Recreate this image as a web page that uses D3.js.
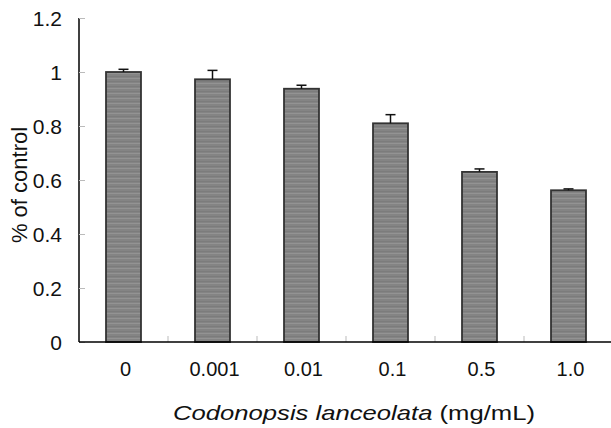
<!DOCTYPE html>
<meta charset="utf-8">
<script src="https://d3js.org/d3.v7.min.js"></script>
<style>
  body { margin: 0; background: #fff; }
  text { font-family: "Liberation Sans", Arial, sans-serif; fill: #111; }
</style>
<div id="vis"></div>
<script>

// data
var doses = ["0", "0.001", "0.01", "0.1", "0.5", "1.0"];
var values = [1.0, 0.973, 0.938, 0.81, 0.630, 0.562];
var errors = [0.01, 0.033, 0.013, 0.032, 0.011, 0.005];
var yTicks = [0, 0.2, 0.4, 0.6, 0.8, 1, 1.2];

var W = 611, H = 428;
var plotLeft = 79, plotTop = 18, plotBottom = 342;

var svg = d3.select("#vis")
  .append("svg")
    .attr("width", W)
    .attr("height", H);

// striped grey fill for the bars
var pat = svg.append("defs").append("pattern")
    .attr("id", "stripes")
    .attr("patternUnits", "userSpaceOnUse")
    .attr("width", 8)
    .attr("height", 5);
pat.append("rect").attr("width", 8).attr("height", 5).attr("fill", "#848484");
pat.append("rect").attr("y", 3).attr("width", 8).attr("height", 1).attr("fill", "#939393");
pat.append("rect").attr("y", 1).attr("width", 8).attr("height", 1).attr("fill", "#7c7c7c");

var x = d3.scaleBand()
  .domain(doses)
  .range([plotLeft, plotLeft + 6 * 89])
  .paddingInner(0.607)
  .paddingOuter(0.3035);

var y = d3.scaleLinear()
  .domain([0, 1.2])
  .range([plotBottom, plotTop]);

// y axis
var yAxis = svg.append("g")
  .attr("transform", "translate(" + plotLeft + ",0)")
  .call(d3.axisRight(y).tickValues(yTicks).tickSize(6).tickFormat(""));
yAxis.select(".domain").attr("stroke", "#000").attr("stroke-width", 1.5)
  .attr("d", "M0," + plotTop + "V" + plotBottom);
yAxis.selectAll(".tick line").attr("stroke", "#bbb");

svg.append("g").selectAll("text")
  .data(yTicks)
  .enter()
  .append("text")
    .attr("x", 62)
    .attr("y", function (d) { return y(d); })
    .attr("dy", "0.37em")
    .attr("text-anchor", "end")
    .style("font-size", "21px")
    .text(function (d) { return d; });

// bars
svg.append("g")
  .selectAll("rect")
  .data(values)
  .enter()
  .append("rect")
    .attr("x", function (d, i) { return x(doses[i]); })
    .attr("y", function (d) { return y(d); })
    .attr("width", x.bandwidth())
    .attr("height", function (d) { return plotBottom - y(d); })
    .attr("fill", "url(#stripes)")
    .attr("stroke", "#333")
    .attr("stroke-width", 1.8);

// error bars (upper only)
var eb = svg.append("g").selectAll("g")
  .data(values)
  .enter()
  .append("g")
    .attr("stroke", "#111")
    .attr("stroke-width", 1.5);
eb.append("line")
  .attr("x1", function (d, i) { return x(doses[i]) + x.bandwidth() / 2; })
  .attr("x2", function (d, i) { return x(doses[i]) + x.bandwidth() / 2; })
  .attr("y1", function (d) { return y(d); })
  .attr("y2", function (d, i) { return y(d + errors[i]); });
eb.append("line")
  .attr("x1", function (d, i) { return x(doses[i]) + x.bandwidth() / 2 - 5; })
  .attr("x2", function (d, i) { return x(doses[i]) + x.bandwidth() / 2 + 5; })
  .attr("y1", function (d, i) { return y(d + errors[i]); })
  .attr("y2", function (d, i) { return y(d + errors[i]); });

// x axis with small separators between categories
svg.append("g").selectAll("line")
  .data(doses.slice(1))
  .enter()
  .append("line")
    .attr("x1", function (d) { return x(d) - x.step() * x.paddingInner() / 2; })
    .attr("x2", function (d) { return x(d) - x.step() * x.paddingInner() / 2; })
    .attr("y1", plotBottom)
    .attr("y2", plotBottom - 6)
    .attr("stroke", "#bbb");
svg.append("line")
  .attr("x1", plotLeft).attr("x2", W)
  .attr("y1", plotBottom).attr("y2", plotBottom)
  .attr("stroke", "#000")
  .attr("stroke-width", 1.5);

svg.append("g").selectAll("text")
  .data(doses)
  .enter()
  .append("text")
    .attr("x", function (d) { return x(d) + x.bandwidth() / 2 + 2; })
    .attr("y", 376)
    .attr("text-anchor", "middle")
    .style("font-size", "20px")
    .text(function (d) { return d; });

// axis titles
var xt = svg.append("text")
  .attr("x", 173)
  .attr("y", 420)
  .attr("textLength", 362)
  .attr("lengthAdjust", "spacingAndGlyphs")
  .style("font-size", "21px");
xt.append("tspan").style("font-style", "italic").text("Codonopsis lanceolata");
xt.append("tspan").text(" (mg/mL)");

svg.append("text")
  .attr("transform", "translate(27,185) rotate(-90)")
  .attr("text-anchor", "middle")
  .style("font-size", "22px")
  .text("% of control");

</script>
